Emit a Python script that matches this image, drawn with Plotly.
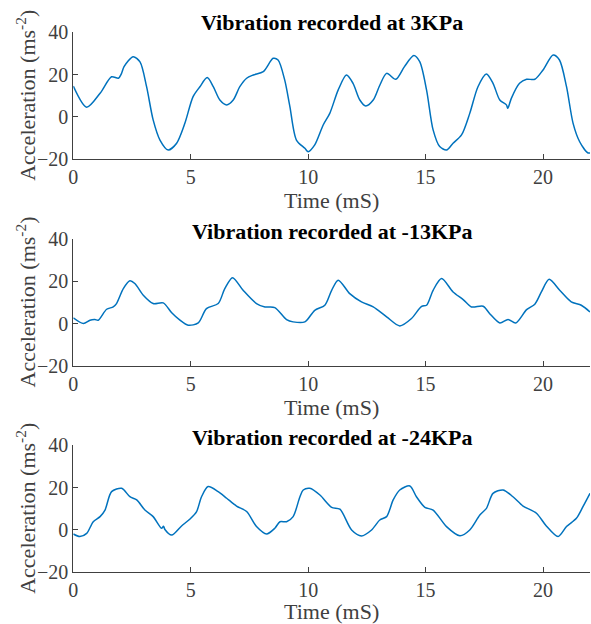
import plotly.graph_objects as go

# ---- data ----
t_3kpa = [0, 0.57, 1.14, 1.63, 1.92, 2.05, 2.16, 2.55, 2.84, 3.12, 3.4, 3.69, 4.04, 4.4, 4.75, 5.1, 5.39, 5.7, 5.96,
          6.24, 6.53, 6.81, 7.09, 7.38, 7.66, 8.09, 8.51, 8.72, 9.0, 9.22, 9.5, 9.86, 10.0, 10.28, 10.64, 10.92,
          11.28, 11.63, 11.91, 12.2, 12.45, 12.77, 13.05, 13.34, 13.73, 14.1, 14.5, 14.75, 15.04, 15.32, 15.6,
          15.89, 16.17, 16.53, 16.88, 17.23, 17.59, 17.87, 18.16, 18.44, 18.5, 18.65, 19.0, 19.3, 19.65, 20.0,
          20.43, 20.7, 21.0, 21.28, 21.56, 21.9, 22.0]
a_3kpa = [14.6, 4.6, 11.2, 19.0, 18.3, 20.5, 23.8, 28.5, 26.0, 14.3, -1.4, -10.9, -15.6, -12.4, -3.0, 9.6, 14.3,
          18.6, 14.3, 8.0, 5.7, 8.0, 14.3, 18.3, 19.8, 21.4, 27.7, 26.9, 17.5, 5.0, -10.9, -14.8, -16.4, -13.2,
          -3.8, 1.7, 12.8, 19.8, 15.9, 8.0, 5.2, 8.0, 15.0, 20.6, 17.8, 23.8, 29.0, 26.1, 12.8, -6.1, -14.0,
          -15.6, -12.4, -8.5, 1.7, 14.3, 20.3, 15.9, 8.0, 5.7, 4.1, 8.8, 15.9, 17.8, 17.8, 22.2, 29.3, 26.9,
          14.3, -3.0, -11.7, -16.9, -17.0]

t_m13kpa = [0, 0.43, 0.71, 0.92, 1.06, 1.42, 1.7, 1.84, 2.13, 2.41, 2.62, 2.98, 3.4, 3.83, 4.19, 4.54, 4.89, 5.32,
            5.67, 6.17, 6.45, 6.78, 7.23, 7.8, 8.16, 8.58, 9.08, 9.36, 9.86, 10.28, 10.71, 11.0, 11.28, 11.77,
            12.27, 12.77, 13.34, 13.9, 14.4, 14.83, 15.04, 15.32, 15.68, 16.17, 16.6, 16.95, 17.45, 17.73, 18.16,
            18.51, 18.84, 19.3, 19.65, 19.93, 20.26, 20.71, 21.2, 21.63, 22.0]
a_m13kpa = [2.7, 0.0, 1.6, 1.9, 1.6, 6.8, 7.9, 9.5, 16.6, 20.3, 19.0, 13.4, 9.5, 9.8, 5.1, 1.6, -0.8, 0.3, 7.1,
            9.5, 16.6, 21.8, 15.8, 9.5, 7.9, 7.6, 1.9, 0.8, 0.8, 6.3, 8.7, 15.8, 20.6, 14.2, 10.3, 7.9, 3.2,
            -1.1, 2.4, 8.2, 8.7, 15.8, 21.4, 15.0, 11.4, 7.9, 8.2, 4.7, 0.3, 1.9, 0.3, 6.6, 9.2, 15.0, 21.0,
            15.8, 10.3, 8.7, 5.5]

t_m24kpa = [0, 0.28, 0.57, 0.85, 1.14, 1.35, 1.63, 2.06, 2.41, 2.7, 3.05, 3.4, 3.76, 3.84, 3.9, 4.19, 4.61, 4.97,
            5.25, 5.46, 5.74, 6.17, 6.53, 6.95, 7.38, 7.8, 8.23, 8.58, 8.8, 9.08, 9.36, 9.65, 9.79, 10.07, 10.5,
            11.0, 11.35, 11.85, 12.27, 12.7, 13.05, 13.34, 13.62, 13.9, 14.33, 14.61, 14.97, 15.32, 15.89, 16.46,
            16.88, 17.31, 17.59, 17.87, 18.3, 18.72, 19.15, 19.72, 20.14, 20.64, 21.0, 21.42, 21.7, 22.0]
a_m24kpa = [-1.9, -3.1, -1.6, 3.9, 6.3, 9.4, 18.1, 19.7, 15.7, 14.2, 9.4, 6.3, 0.8, 1.8, 0.2, -2.4, 1.9, 5.2, 8.7,
            15.7, 20.5, 18.1, 15.0, 11.3, 8.7, 1.6, -1.9, 0.8, 3.9, 3.9, 6.3, 15.7, 18.9, 19.7, 16.5, 10.7, 9.8,
            0.0, -2.8, 0.0, 4.7, 6.3, 14.2, 18.9, 20.8, 15.7, 10.7, 9.4, 1.6, -2.7, 0.0, 7.1, 10.2, 17.3, 18.9,
            15.7, 11.3, 7.9, 1.9, -3.1, 1.6, 5.5, 11.0, 17.3]

titles = ["Vibration recorded at 3KPa", "Vibration recorded at -13KPa", "Vibration recorded at -24KPa"]
x_ticks = [0, 5, 10, 15, 20]
y_ticks = [-20, 0, 20, 40]
x_title = "Time (mS)"
y_title = "Acceleration (ms<sup>-2</sup>)"

series = [(t_3kpa, a_3kpa), (t_m13kpa, a_m13kpa), (t_m24kpa, a_m24kpa)]

# ---- layout geometry (pixels) ----
W, H = 591, 624
x0_px, x1_px = 73.3, 590
y_px = [(32.3, 159.3), (239.3, 365.7), (445.3, 572.3)]
title_px = [23, 231.5, 437]
ytitle_x_px = 26

FONT = "Liberation Serif"
AXC = "#404040"
LINEC = "#0072BD"

fig = go.Figure()
annotations = []
for i, ((t, a), (ytop, ybot)) in enumerate(zip(series, y_px)):
    n = "" if i == 0 else str(i + 1)
    fig.add_trace(go.Scatter(x=t, y=a, mode="lines", xaxis="x" + n, yaxis="y" + n,
                             line=dict(color=LINEC, width=1.5, shape="spline", smoothing=0.8),
                             showlegend=False, hoverinfo="skip"))
    common = dict(showline=True, linecolor=AXC, linewidth=1.2, ticks="inside", ticklen=5, tickwidth=1,
                  tickcolor=AXC, showgrid=False, zeroline=False, mirror=False, automargin=False,
                  tickfont=dict(family=FONT, size=20, color=AXC))
    fig.update_layout(**{
        "xaxis" + n: dict(domain=[x0_px / W, x1_px / W], range=[0, 22], tickvals=x_ticks,
                          anchor="y" + n, title=dict(text=x_title, standoff=2,
                                                     font=dict(family=FONT, size=22, color=AXC)),
                          **common),
        "yaxis" + n: dict(domain=[1 - ybot / H, 1 - ytop / H], range=[-20, 40], tickvals=y_ticks,
                          anchor="x" + n, **common),
    })
    annotations.append(dict(text="<b>" + titles[i] + "</b>", xref="paper", yref="paper",
                            x=(x0_px + x1_px) / 2 / W, y=1 - title_px[i] / H, xanchor="center",
                            yanchor="middle", showarrow=False,
                            font=dict(family=FONT, size=22, color="black")))
    annotations.append(dict(text=y_title, xref="paper", yref="paper", textangle=-90,
                            x=ytitle_x_px / W, y=1 - (ytop + ybot) / 2 / H, xanchor="center",
                            yanchor="middle", showarrow=False,
                            font=dict(family=FONT, size=22, color=AXC)))

fig.update_layout(width=W, height=H, margin=dict(l=0, r=0, t=0, b=0),
                  paper_bgcolor="white", plot_bgcolor="white", annotations=annotations,
                  font=dict(family=FONT))
fig.write_html("out.html", config={"displayModeBar": False},
               post_script="document.body.style.margin='0';document.body.style.padding='0';")
